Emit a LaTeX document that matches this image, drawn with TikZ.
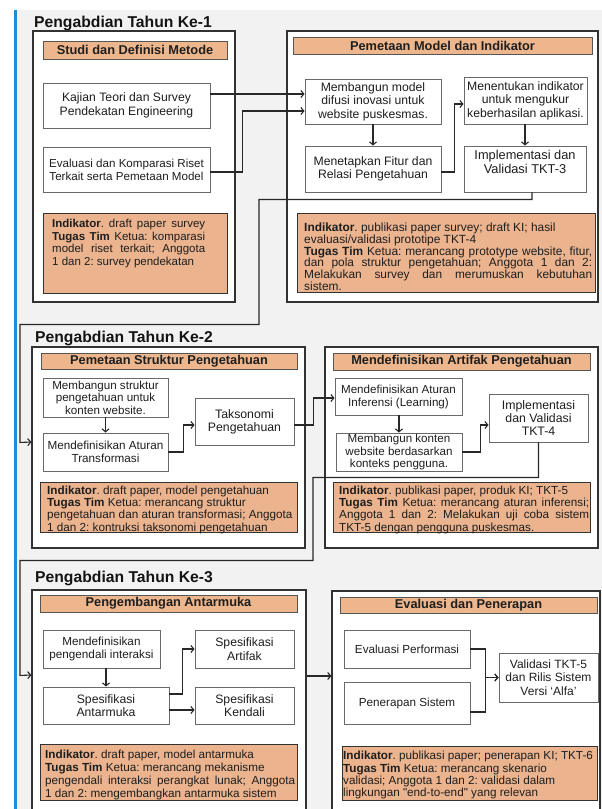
\documentclass[tikz,border=0pt]{standalone}
\usepackage{fontspec}
\setmainfont{Liberation Sans}
\usetikzlibrary{arrows.meta,calc}
\definecolor{bgc}{RGB}{242,242,242}
\definecolor{bluec}{RGB}{34,140,210}
\definecolor{hdrc}{RGB}{237,182,141}
\definecolor{indc}{RGB}{235,180,143}
\definecolor{outc}{RGB}{50,50,50}
\definecolor{ibline}{RGB}{105,105,105}
\definecolor{hdrline}{RGB}{85,85,85}
\definecolor{connc}{RGB}{40,40,40}
\definecolor{txtc}{RGB}{30,30,30}
\newcommand{\fs}[2]{\fontsize{#1}{#2}\selectfont}
\frenchspacing
\tikzset{
  outerbox/.style={draw=outc, fill=white, line width=1.2pt, inner sep=0pt},
  hdrbox/.style={draw=hdrline, fill=hdrc, line width=0.8pt, inner sep=0pt, font=\bfseries\fs{12.8}{14}, text=black!88},
  ib/.style={draw=ibline, fill=white, line width=0.9pt, inner sep=0pt, align=center, text=txtc},
  indbox/.style={draw=outc, fill=indc, line width=0.9pt, inner sep=0pt},
  indtxt/.style={anchor=north west, inner sep=0pt, align=left, text=txtc},
  conn/.style={draw=connc, line width=1.1pt, -{Straight Barb[length=3pt,width=7pt]}},
  ttl/.style={anchor=base west, inner sep=0pt, font=\bfseries\fs{15.7}{18}, text=black!92},
}
\begin{document}
\begin{tikzpicture}[x=1pt,y=-1pt]
\useasboundingbox (0,0) rectangle (602,809);
\clip (0,0) rectangle (602,809);
\fill[white] (0,0) rectangle (602,809);
\fill[bgc] (16.5,10) rectangle (602,809);
\fill[bluec] (13.5,10) rectangle (16.5,809);

% ---------------- Year 1 ----------------
\node[ttl] (t1) at (34,27) {Pengabdian Tahun Ke-1};
\node[outerbox, minimum width=202pt, minimum height=271pt] (o1L) at (134,166.5) {};
\node[hdrbox, minimum width=184pt, minimum height=18pt] (h1L) at (135,50) {Studi dan Definisi Metode};
\node[ib, minimum width=167pt, minimum height=45pt, font=\fs{12.2}{13.4}] (kaj) at (126.5,105.5) {Kajian Teori dan Survey\\Pendekatan Engineering};
\node[ib, minimum width=167pt, minimum height=45pt, font=\fs{11.6}{12.8}] (eval) at (126.5,169.5) {Evaluasi dan Komparasi Riset\\Terkait serta Pemetaan Model};
\node[indbox, minimum width=184pt, minimum height=80pt] (i1L) at (135,253) {};
\node[indtxt, font=\fs{11.5}{12.6}] (i1Lt) at (52,219) {\makebox[153pt][s]{\textbf{Indikator}. draft paper survey}\\\makebox[153pt][s]{\textbf{Tugas Tim} Ketua: komparasi}\\\makebox[153pt][s]{model riset terkait; Anggota}\\1 dan 2: survey pendekatan};

\node[outerbox, minimum width=311pt, minimum height=271pt] (o1R) at (442.5,166.5) {};
\node[hdrbox, minimum width=299pt, minimum height=17pt] (h1R) at (442.5,45.5) {Pemetaan Model dan Indikator};
\node[ib, minimum width=136pt, minimum height=45pt, font=\fs{12.2}{13.4}] (memb) at (373,101.5) {Membangun model\\difusi inovasi untuk\\website puskesmas.};
\node[ib, minimum width=123pt, minimum height=47pt, font=\fs{12.2}{13.4}] (menen) at (525.5,100.5) {Menentukan indikator\\untuk mengukur\\keberhasilan aplikasi.};
\node[ib, minimum width=136pt, minimum height=46pt, font=\fs{12.2}{13.4}] (menet) at (373,169) {Menetapkan Fitur dan\\Relasi Pengetahuan};
\node[ib, minimum width=122pt, minimum height=46pt, font=\fs{12.8}{13.6}, text depth=14pt] (impl3) at (525,169) {Implementasi dan\\Validasi TKT-3};
\node[indbox, minimum width=298pt, minimum height=79pt] (i1R) at (446,252.5) {};
\node[indtxt, font=\fs{11.9}{11.7}] (i1Rt) at (304,223) {\textbf{Indikator}. publikasi paper survey; draft KI; hasil\\evaluasi/validasi prototipe TKT-4\\\makebox[288pt][s]{\textbf{Tugas Tim} Ketua: merancang prototype website, fitur,}\\\makebox[288pt][s]{dan pola struktur pengetahuan; Anggota 1 dan 2:}\\\makebox[288pt][s]{Melakukan survey dan merumuskan kebutuhan}\\sistem.};

% ---------------- Year 2 ----------------
\node[ttl] (t2) at (35,342) {Pengabdian Tahun Ke-2};
\node[outerbox, minimum width=273pt, minimum height=201pt] (o2L) at (168.5,447.5) {};
\node[hdrbox, minimum width=256pt, minimum height=16pt] (h2L) at (169,361) {Pemetaan Struktur Pengetahuan};
\node[ib, minimum width=125pt, minimum height=39pt, font=\fs{11.6}{12.5}] (mstr) at (105.5,397.5) {Membangun struktur\\pengetahuan untuk\\konten website.};
\node[ib, minimum width=99pt, minimum height=47pt, font=\fs{12.3}{13.2}] (taks) at (244.5,421.5) {Taksonomi\\Pengetahuan};
\node[ib, minimum width=125pt, minimum height=38pt, font=\fs{11.7}{13}] (mtrans) at (105.5,452) {Mendefinisikan Aturan\\Transformasi};
\node[indbox, minimum width=257pt, minimum height=50pt] (i2L) at (168.5,507) {};
\node[indtxt, font=\fs{11.7}{12.4}] (i2Lt) at (47,485.5) {\textbf{Indikator}. draft paper, model pengetahuan\\\textbf{Tugas Tim} Ketua: merancang struktur\\pengetahuan dan aturan transformasi; Anggota\\1 dan 2: kontruksi taksonomi pengetahuan};

\node[outerbox, minimum width=273pt, minimum height=201pt] (o2R) at (461.5,447.5) {};
\node[hdrbox, minimum width=257pt, minimum height=17pt] (h2R) at (461.5,361.5) {Mendefinisikan Artifak Pengetahuan};
\node[ib, minimum width=127pt, minimum height=37pt, font=\fs{11.6}{13}] (minf) at (398.5,396.5) {Mendefinisikan Aturan\\Inferensi (Learning)};
\node[ib, minimum width=99pt, minimum height=48pt, font=\fs{12.3}{13}] (impl4) at (538.5,418) {Implementasi\\dan Validasi\\TKT-4};
\node[ib, minimum width=126pt, minimum height=38pt, font=\fs{11.6}{12.5}] (mkont) at (399,452) {Membangun konten\\website berdasarkan\\konteks pengguna.};
\node[indbox, minimum width=257pt, minimum height=50pt] (i2R) at (461.5,507) {};
\node[indtxt, font=\fs{11.7}{12.4}] (i2Rt) at (339,485.5) {\textbf{Indikator}. publikasi paper, produk KI; TKT-5\\\makebox[250pt][s]{\textbf{Tugas Tim} Ketua: merancang aturan inferensi;}\\\makebox[250pt][s]{Anggota 1 dan 2: Melakukan uji coba sistem}\\TKT-5 dengan pengguna puskesmas.};

% ---------------- Year 3 ----------------
\node[ttl] (t3) at (35,582.5) {Pengabdian Tahun Ke-3};
\node[outerbox, minimum width=274pt, minimum height=240pt] (o3L) at (169,710) {};
\node[hdrbox, minimum width=257pt, minimum height=17pt] (h3L) at (168.5,603.5) {Pengembangan Antarmuka};
\node[ib, minimum width=117pt, minimum height=38pt, font=\fs{11.7}{13.5}] (mpeng) at (101.5,649) {Mendefinisikan\\pengendali interaksi};
\node[ib, minimum width=99pt, minimum height=38pt, font=\fs{12.2}{13.5}] (sart) at (244.5,649) {Spesifikasi\\Artifak};
\node[ib, minimum width=126pt, minimum height=37pt, font=\fs{12.2}{13.5}] (santar) at (106,705.5) {Spesifikasi\\Antarmuka};
\node[ib, minimum width=99pt, minimum height=37pt, font=\fs{12.2}{13.5}] (skend) at (244.5,705.5) {Spesifikasi\\Kendali};
\node[indbox, minimum width=257pt, minimum height=56pt] (i3L) at (168.5,772) {};
\node[indtxt, font=\fs{11.7}{13}] (i3Lt) at (45,749.5) {\textbf{Indikator}. draft paper, model antarmuka\\\textbf{Tugas Tim} Ketua: merancang mekanisme\\\makebox[250pt][s]{pengendali interaksi perangkat lunak; Anggota}\\1 dan 2: mengembangkan antarmuka sistem};

\node[outerbox, minimum width=268pt, minimum height=239pt] (o3R) at (466,710.5) {};
\node[hdrbox, minimum width=257pt, minimum height=16pt] (h3R) at (468.5,605) {Evaluasi dan Penerapan};
\node[ib, minimum width=126pt, minimum height=38pt, font=\fs{11.7}{13}] (evperf) at (407,649) {Evaluasi Performasi};
\node[ib, minimum width=99pt, minimum height=49pt, font=\fs{12}{13.5}] (valid) at (548.5,677.5) {Validasi TKT-5\\dan Rilis Sistem\\Versi `Alfa'};
\node[ib, minimum width=126pt, minimum height=42pt, font=\fs{11.7}{13}] (pener) at (407,703) {Penerapan Sistem};
\node[indbox, minimum width=255pt, minimum height=54pt] (i3R) at (469.5,773) {};
\node[indtxt, font=\fs{11.7}{12.4}] (i3Rt) at (343,751) {\textbf{Indikator}. publikasi paper; penerapan KI; TKT-6\\\textbf{Tugas Tim} Ketua: merancang skenario\\validasi; Anggota 1 dan 2: validasi dalam\\lingkungan \textquotedbl end-to-end\textquotedbl\ yang relevan};

% ---------------- Connectors ----------------
\draw[conn] ([yshift=11.5pt]kaj.east) -- ([yshift=11.5pt]kaj.east -| memb.west);
\draw[conn] ([yshift=-2.5pt]eval.east) -- ++(32,0) |- ([yshift=-9.5pt]memb.west);
\draw[conn] (memb.south) -- (menet.north);
\draw[conn] ([yshift=-3pt]menet.east) -- ++(13,0) |- ([yshift=-3.5pt]menen.west);
\draw[conn] (impl3.north |- menen.south) -- (impl3.north);
\draw[conn] ([xshift=7pt]impl3.south) -- ++(0,7) -| ++(-273,125) -| ++(-239,118) -- ([yshift=5.5pt]o2L.west);

\draw[conn] (mtrans.north |- mstr.south) -- (mtrans.north);
\draw[conn] (mtrans.east) -- ++(15,0) |- ([yshift=-3.5pt]taks.west);
\draw[conn] ([yshift=-3.5pt]taks.east) -- ++(19,0) |- ([yshift=-1.5pt]minf.west);
\draw[conn] (mkont.north |- minf.south) -- (mkont.north);
\draw[conn] (mkont.east) -- ++(18,0) |- ([yshift=-7pt]impl4.west);
\draw[conn] (impl4.south) -- ++(0,35) -| ++(-225.5,83) -| ++(-293,115) -- ([yshift=35pt]o3L.west);

\draw[conn] (santar.north |- mpeng.south) -- (santar.north);
\draw[conn] ([yshift=11.5pt]santar.east) -- ++(13,0) |- (sart.west);
\draw[conn] ([yshift=-4.5pt]santar.east) -- ([yshift=-4.5pt]santar.east -| skend.west);
\draw[conn] ([yshift=34pt]o3L.east) -- ([yshift=34pt]o3L.east -| o3R.west);
\draw[conn] (evperf.east) -- ++(15,0) |- (valid.west);
\draw[conn] ([yshift=-9pt]pener.east) -- ++(15,0) |- (valid.west);
\end{tikzpicture}
\end{document}
